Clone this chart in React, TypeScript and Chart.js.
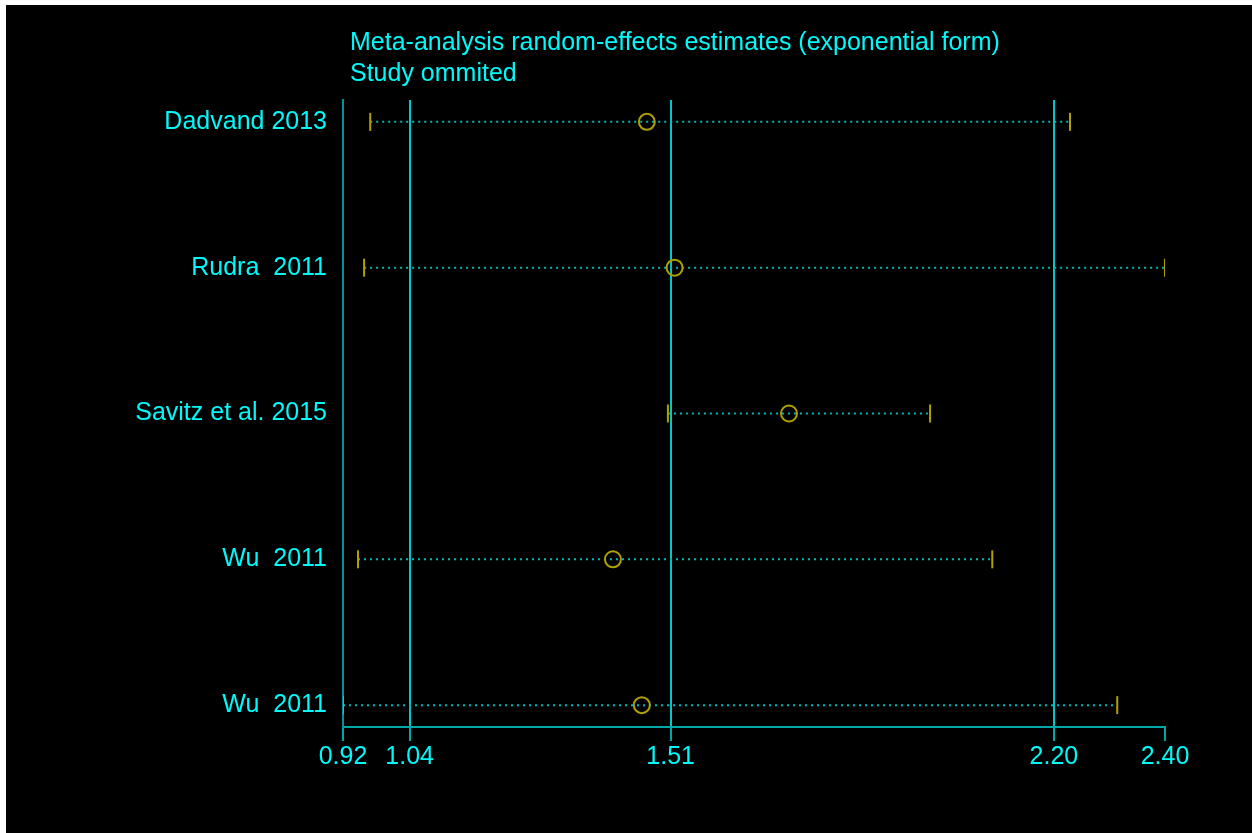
import React, { useEffect, useRef } from "react";
import { Chart, registerables } from "chart.js";

Chart.register(...registerables);

const studies = ["Dadvand 2013", "Rudra  2011", "Savitz et al. 2015", "Wu  2011", "Wu  2011"];
const estimates = [1.467, 1.517, 1.723, 1.406, 1.458];
const lower = [0.969, 0.958, 1.505, 0.947, 0.92];
const upper = [2.229, 2.4, 1.977, 2.089, 2.314];
const xTicks = [0.92, 1.04, 1.51, 2.2, 2.4];
const titleLines = ["Meta-analysis random-effects estimates (exponential form)", "Study ommited"];

const CYAN = "#00FAFA";
const LINE = "#00C8C8";
const AXIS = "#00A8A8";
const DOTS = "#00B8B8";
const OLIVE = "#B0A000";
const FONT = "'Liberation Sans', Arial, sans-serif";

export default function App() {
  const ref = useRef<HTMLCanvasElement | null>(null);
  useEffect(() => {
    if (!ref.current) return;
    const ciSets = studies.map((_, i) => ({
      type: "line" as const,
      data: [
        { x: lower[i], y: i + 1 },
        { x: upper[i], y: i + 1 },
      ],
      borderColor: DOTS,
      borderWidth: 2,
      borderDash: [2, 4],
      pointRadius: 0,
      showLine: true,
      order: 3,
    }));
    const capSet = {
      type: "scatter" as const,
      data: studies.flatMap((_, i) => [
        { x: lower[i], y: i + 1 },
        { x: upper[i], y: i + 1 },
      ]),
      pointStyle: "line" as const,
      rotation: 90,
      radius: 9,
      borderColor: OLIVE,
      backgroundColor: OLIVE,
      borderWidth: 2,
      order: 2,
    };
    const estSet = {
      type: "scatter" as const,
      data: studies.map((_, i) => ({ x: estimates[i], y: i + 1 })),
      pointStyle: "circle" as const,
      radius: 8,
      borderColor: OLIVE,
      backgroundColor: "rgba(0,0,0,0)",
      borderWidth: 2,
      order: 1,
    };
    const titlePlugin = {
      id: "titleLines",
      afterDraw(chart: any) {
        const c = chart.ctx;
        c.save();
        c.fillStyle = CYAN;
        c.font = `25px ${FONT}`;
        c.textBaseline = "middle";
        c.textAlign = "left";
        titleLines.forEach((t, i) => c.fillText(t, chart.chartArea.left + 7, 38 + i * 31));
        c.restore();
      },
    };
    const chart = new Chart(ref.current, {
      type: "scatter",
      data: { datasets: [...ciSets, capSet, estSet] as any },
      options: {
        animation: false,
        responsive: false,
        layout: { padding: { left: 0, top: 95, right: 87, bottom: 0 } },
        plugins: { legend: { display: false }, tooltip: { enabled: false } },
        scales: {
          x: {
            type: "linear",
            min: 0.92,
            max: 2.4,
            afterBuildTicks: (axis: any) => {
              axis.ticks = xTicks.map((v) => ({ value: v }));
            },
            afterFit: (axis: any) => {
              axis.height = 106;
            },
            border: { color: AXIS, width: 2 },
            grid: {
              color: (ctx: any) =>
                ctx.tick && Math.abs(ctx.tick.value - 2.4) < 1e-6
                  ? "rgba(0,0,0,0)"
                  : ctx.tick && Math.abs(ctx.tick.value - 0.92) < 1e-6
                  ? "#009494"
                  : LINE,
              tickColor: AXIS,
              lineWidth: 2,
              tickWidth: 2,
              tickLength: 14,
            },
            ticks: {
              autoSkip: false,
              maxRotation: 0,
              color: CYAN,
              font: { family: FONT, size: 25 },
              padding: 1,
              callback: (v: any) => Number(v).toFixed(2),
            },
          },
          y: {
            type: "linear",
            reverse: true,
            min: 0.85,
            max: 5.15,
            afterBuildTicks: (axis: any) => {
              axis.ticks = studies.map((_, i) => ({ value: i + 1 }));
            },
            afterFit: (axis: any) => {
              axis.width = 337;
            },
            border: { color: "#009494", width: 2 },
            grid: { display: false, drawTicks: false },
            ticks: {
              autoSkip: false,
              color: CYAN,
              font: { family: FONT, size: 25 },
              padding: 16,
              callback: (v: any) => studies[Math.round(Number(v)) - 1] ?? "",
            },
          },
        },
      },
      plugins: [titlePlugin],
    });
    return () => chart.destroy();
  }, []);
  return (
    <div style={{ position: "absolute", left: 6, top: 5, width: 1246, height: 828, background: "#000" }}>
      <canvas ref={ref} width={1246} height={828} style={{ display: "block" }} />
    </div>
  );
}
